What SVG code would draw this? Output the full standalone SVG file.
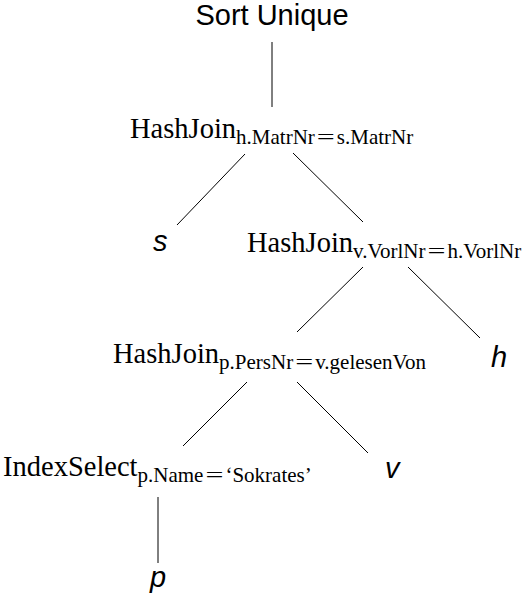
<svg xmlns="http://www.w3.org/2000/svg" width="523" height="594" viewBox="0 0 523 594">
<style>
.sans{font-family:"Liberation Sans",Arial,sans-serif;font-size:29px;fill:#000}
.it{font-style:italic}
.serif{font-family:"Liberation Serif","Times New Roman",serif;font-size:28.5px;fill:#000}
.sub{font-size:21px}
.edge{stroke:#000;stroke-width:1;fill:none}
</style>
<rect width="523" height="594" fill="#fff"/>
<g id="connectors">
<line class="edge" x1="272" y1="42" x2="272" y2="107"/>
<line class="edge" x1="245" y1="154" x2="177" y2="225"/>
<line class="edge" x1="293" y1="153" x2="363" y2="222"/>
<line class="edge" x1="363" y1="267" x2="297" y2="332"/>
<line class="edge" x1="408" y1="267" x2="480" y2="338"/>
<line class="edge" x1="247" y1="382" x2="183" y2="446"/>
<line class="edge" x1="297" y1="382" x2="368" y2="453"/>
<line class="edge" x1="158" y1="497" x2="158" y2="563"/>
</g>
<g id="sort"><text class="sans" x="272" y="25" text-anchor="middle">Sort Unique</text></g>
<g id="hj1"><text class="serif" x="130" y="138">HashJoin<tspan class="sub" dy="6">h.MatrNr</tspan><tspan class="sub" dx="2" textLength="18" lengthAdjust="spacingAndGlyphs">=</tspan><tspan class="sub" dx="2">s.MatrNr</tspan></text></g>
<g id="s"><text class="sans it" x="153" y="251">s</text></g>
<g id="hj2"><text class="serif" x="247" y="252">HashJoin<tspan class="sub" dy="6">v.VorlNr</tspan><tspan class="sub" dx="2" textLength="18" lengthAdjust="spacingAndGlyphs">=</tspan><tspan class="sub" dx="2">h.VorlNr</tspan></text></g>
<g id="h"><text class="sans it" x="491" y="367">h</text></g>
<g id="hj3"><text class="serif" x="113" y="363">HashJoin<tspan class="sub" dy="6">p.PersNr</tspan><tspan class="sub" dx="2" textLength="18" lengthAdjust="spacingAndGlyphs">=</tspan><tspan class="sub" dx="2">v.gelesenVon</tspan></text></g>
<g id="is"><text class="serif" x="3" y="476">IndexSelect<tspan class="sub" dy="6">p.Name</tspan><tspan class="sub" dx="2" textLength="18" lengthAdjust="spacingAndGlyphs">=</tspan><tspan class="sub" dx="2">‘Sokrates’</tspan></text></g>
<g id="v"><text class="sans it" x="385" y="478">v</text></g>
<g id="p"><text class="sans it" x="150" y="587">p</text></g>
</svg>
